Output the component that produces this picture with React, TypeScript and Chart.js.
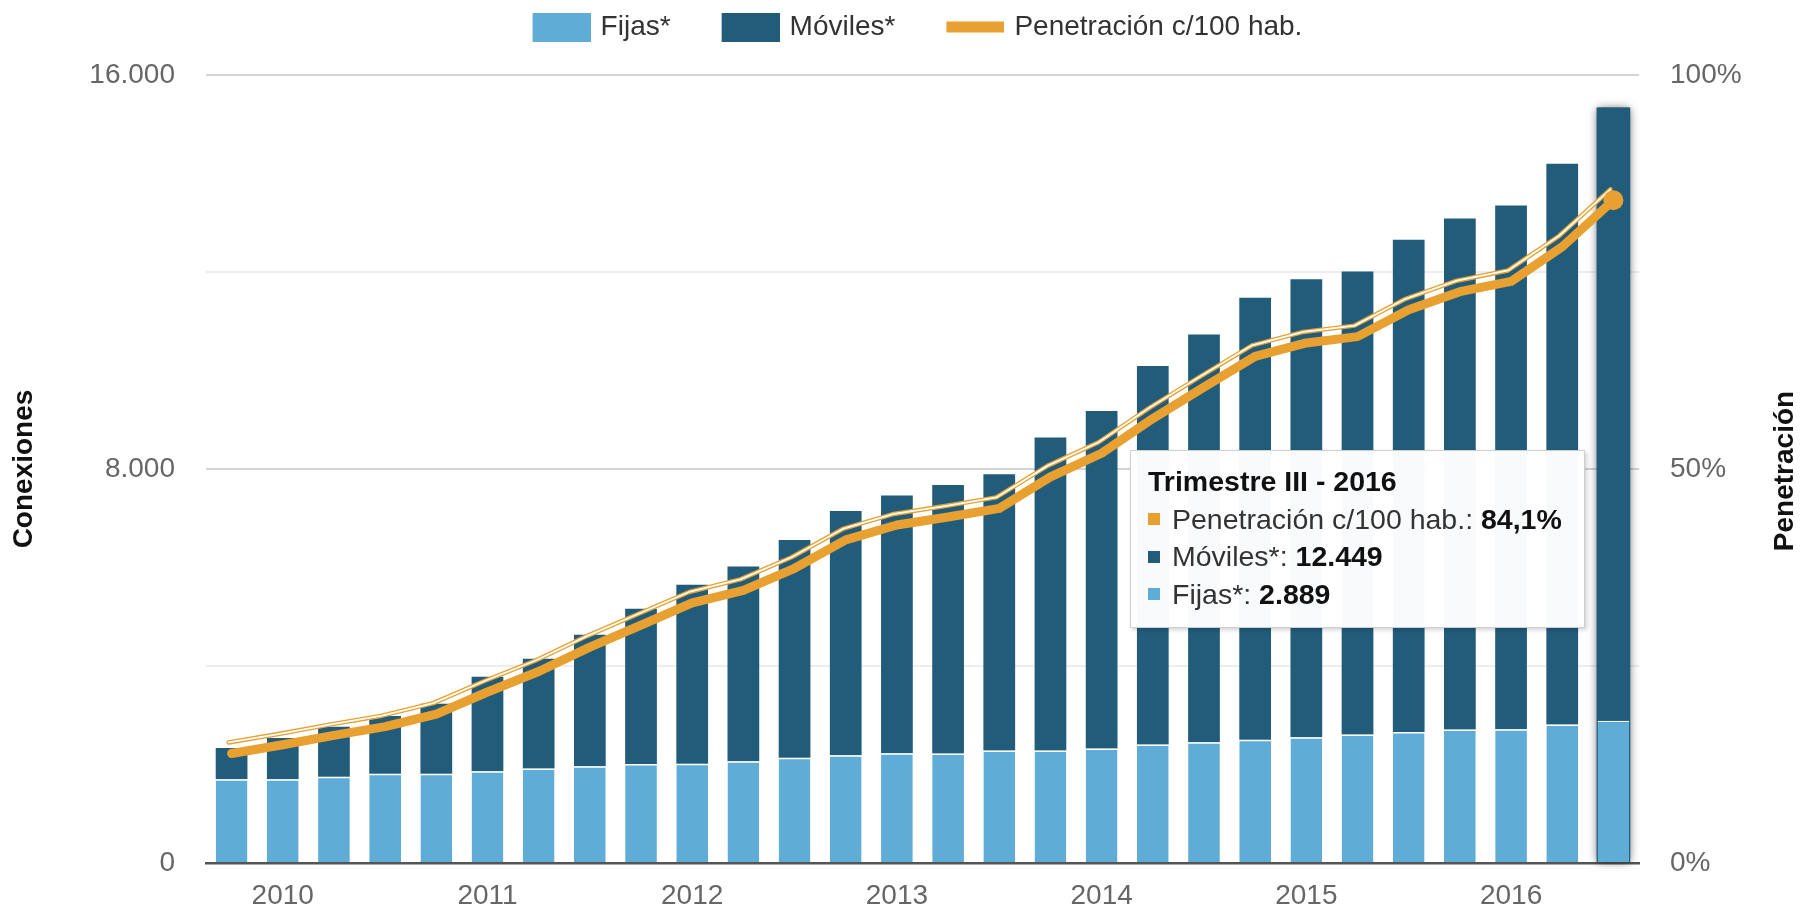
import React, { useEffect, useRef } from 'react';
import { Chart, registerables } from 'chart.js';

Chart.register(...registerables);

// ---- Data ----
const categories = [
  'Trimestre IV - 2009',
  'Trimestre I - 2010', 'Trimestre II - 2010', 'Trimestre III - 2010', 'Trimestre IV - 2010',
  'Trimestre I - 2011', 'Trimestre II - 2011', 'Trimestre III - 2011', 'Trimestre IV - 2011',
  'Trimestre I - 2012', 'Trimestre II - 2012', 'Trimestre III - 2012', 'Trimestre IV - 2012',
  'Trimestre I - 2013', 'Trimestre II - 2013', 'Trimestre III - 2013', 'Trimestre IV - 2013',
  'Trimestre I - 2014', 'Trimestre II - 2014', 'Trimestre III - 2014', 'Trimestre IV - 2014',
  'Trimestre I - 2015', 'Trimestre II - 2015', 'Trimestre III - 2015', 'Trimestre IV - 2015',
  'Trimestre I - 2016', 'Trimestre II - 2016', 'Trimestre III - 2016',
];

const fijas = [
  1700, 1700, 1750, 1810, 1810, 1865, 1920, 1965, 2010, 2015, 2065, 2135, 2190, 2230,
  2225, 2285, 2285, 2325, 2405, 2450, 2505, 2555, 2610, 2660, 2710, 2715, 2810, 2889,
];

const moviles = [
  635, 840, 1018, 1175, 1425, 1918, 2225, 2668, 3154, 3633, 3955, 4423, 4957, 5230,
  5450, 5610, 6353, 6855, 7687, 8280, 8974, 9298, 9398, 9996, 10375, 10635, 11390, 12449,
];

const penetracion = [
  13.9, 15.0, 16.2, 17.3, 18.9, 21.7, 24.3, 27.4, 30.2, 33.0, 34.6, 37.4, 41.0, 42.9,
  43.9, 45.0, 49.0, 52.0, 56.4, 60.4, 64.3, 66.0, 66.8, 70.2, 72.5, 73.8, 78.2, 84.1,
];

const seriesNames = ['Fijas*', 'Móviles*', 'Penetración c/100 hab.'];
const leftLabeledTicks = [0, 8000, 16000];
const rightTickLabels = ['0%', '50%', '100%'];
const axisTitles = ['Conexiones', 'Penetración'];

// ---- Styles ----
const FONT = "'Liberation Sans', Arial, Helvetica, sans-serif";
const C_FIJAS = '#5FADD6';
const C_MOV = '#215C7B';
const C_PEN = '#E8A030';
const HIGHLIGHT = categories.length - 1;
const SW_BOX = 92; // legend box slot width
const SW_CANVAS = 100; // swatch canvas width

function fmtThousands(n: number): string {
  return Math.round(n).toString().replace(/\B(?=(\d{3})+(?!\d))/g, '.');
}
function fmtPct(n: number): string {
  return n.toFixed(1).replace('.', ',') + '%';
}
function yearOf(cat: string): string {
  return cat.split(' - ')[1];
}

function swatch(kind: 'box' | 'line', color: string): HTMLCanvasElement {
  const c = document.createElement('canvas');
  c.width = SW_CANVAS;
  c.height = 29;
  const g = c.getContext('2d')!;
  g.fillStyle = color;
  if (kind === 'box') g.fillRect(SW_CANVAS - 58, 0, 58, 29);
  else g.fillRect(SW_CANVAS - 58, 9, 58, 11);
  return c;
}

const decorPlugin: any = {
  id: 'decor',
  beforeLayout(chart: any) {
    const lg = chart.legend;
    if (lg && !lg.__patched) {
      const orig = lg.fit.bind(lg);
      lg.fit = function () {
        orig();
        this.height = 75;
        if (this.lineWidths && this.lineWidths.length) this.lineWidths[0] += 19;
      };
      lg.__patched = true;
    }
  },
  beforeDatasetsDraw(chart: any) {
    const b0: any = chart.getDatasetMeta(0).data[HIGHLIGHT];
    const b1: any = chart.getDatasetMeta(1).data[HIGHLIGHT];
    if (!b0 || !b1) return;
    const ctx = chart.ctx;
    ctx.save();
    ctx.shadowColor = 'rgba(0,0,0,0.6)';
    ctx.shadowBlur = 9;
    ctx.fillStyle = C_MOV;
    const w = b1.width + 2;
    ctx.fillRect(b1.x - w / 2, b1.y, w, b0.base - b1.y);
    ctx.restore();
  },
  beforeDatasetDraw(chart: any, args: any) {
    if (args.index !== 2) return;
    const pts: any[] = chart.getDatasetMeta(2).data;
    const ctx = chart.ctx;
    const dx = -3, dy = -11;
    ctx.save();
    ctx.beginPath();
    pts.forEach((p, k) => {
      if (k === 0) ctx.moveTo(p.x + dx, p.y + dy);
      else ctx.lineTo(p.x + dx, p.y + dy);
    });
    ctx.lineJoin = 'round';
    ctx.lineCap = 'round';
    ctx.strokeStyle = C_PEN;
    ctx.lineWidth = 4.5;
    ctx.stroke();
    ctx.strokeStyle = '#ffffff';
    ctx.lineWidth = 1.8;
    ctx.stroke();
    ctx.restore();
  },
  afterDraw(chart: any) {
    const ctx = chart.ctx;
    const a = chart.chartArea;
    const cy = (a.top + a.bottom) / 2;
    ctx.save();
    ctx.fillStyle = '#111';
    ctx.font = `bold 28px ${FONT}`;
    ctx.textAlign = 'center';
    ctx.textBaseline = 'middle';
    ctx.translate(24, cy);
    ctx.rotate(-Math.PI / 2);
    ctx.fillText(axisTitles[0], 0, 0);
    ctx.restore();
    ctx.save();
    ctx.fillStyle = '#111';
    ctx.font = `bold 28px ${FONT}`;
    ctx.textAlign = 'center';
    ctx.textBaseline = 'middle';
    ctx.translate(1785, cy + 2);
    ctx.rotate(-Math.PI / 2);
    ctx.fillText(axisTitles[1], 0, 0);
    ctx.restore();
  },
};

export default function App() {
  const ref = useRef<HTMLCanvasElement>(null);

  useEffect(() => {
    if (!ref.current) return;
    const swatches = [swatch('box', C_FIJAS), swatch('box', C_MOV), swatch('line', C_PEN)];
    const chart = new Chart(ref.current, {
      type: 'bar',
      data: {
        labels: categories,
        datasets: [
          {
            type: 'bar',
            label: seriesNames[0],
            data: fijas,
            backgroundColor: C_FIJAS,
            borderColor: '#ffffff',
            borderWidth: { top: 1.5, left: 0, right: 0, bottom: 0 },
            borderSkipped: false,
            yAxisID: 'y',
            stack: 'c',
            order: 1,
            barPercentage: 0.62,
            categoryPercentage: 1,
          } as any,
          {
            type: 'bar',
            label: seriesNames[1],
            data: moviles,
            backgroundColor: C_MOV,
            borderColor: '#ffffff',
            borderWidth: { top: 0, left: 0, right: 0, bottom: 0 },
            borderSkipped: false,
            yAxisID: 'y',
            stack: 'c',
            order: 1,
            barPercentage: 0.62,
            categoryPercentage: 1,
          } as any,
          {
            type: 'line',
            label: seriesNames[2],
            data: penetracion,
            yAxisID: 'y1',
            borderColor: C_PEN,
            backgroundColor: C_PEN,
            borderWidth: 9,
            borderJoinStyle: 'round',
            borderCapStyle: 'round',
            tension: 0,
            pointRadius: penetracion.map((_, i) => (i === HIGHLIGHT ? 10 : 0)),
            pointBorderWidth: 0,
            pointBackgroundColor: C_PEN,
            order: 0,
          } as any,
        ],
      },
      options: {
        animation: false,
        responsive: false,
        events: [],
        layout: { padding: 0 },
        font: { family: FONT } as any,
        plugins: {
          tooltip: { enabled: false },
          legend: {
            display: true,
            position: 'top',
            labels: {
              usePointStyle: true,
              pointStyleWidth: SW_BOX,
              boxHeight: 28,
              padding: 13,
              color: '#333',
              font: { family: FONT, size: 28 },
              generateLabels: () =>
                seriesNames.map((name, i) => ({
                  text: name,
                  fillStyle: [C_FIJAS, C_MOV, C_PEN][i],
                  strokeStyle: 'transparent',
                  lineWidth: 0,
                  pointStyle: swatches[i] as any,
                  hidden: false,
                  datasetIndex: i,
                  fontColor: '#333',
                })),
            },
          },
        },
        scales: {
          x: {
            type: 'category',
            stacked: true,
            offset: true,
            grid: { display: false, drawTicks: false },
            border: { display: true, color: '#555', width: 2.5 },
            ticks: {
              autoSkip: false,
              maxRotation: 0,
              minRotation: 0,
              padding: 16,
              color: '#666',
              font: { family: FONT, size: 28 },
              callback: (_v: any, i: number) =>
                categories[i].startsWith('Trimestre I ') ? yearOf(categories[i]) : '',
            },
            afterFit: (s: any) => {
              s.height = 60;
            },
          },
          y: {
            type: 'linear',
            position: 'left',
            stacked: true,
            min: 0,
            max: 16000,
            border: { display: false },
            grid: {
              drawTicks: false,
              lineWidth: 2,
              color: (c: any) =>
                leftLabeledTicks.includes(c.tick?.value) ? '#d4d4d4' : '#ededed',
            },
            ticks: {
              stepSize: 4000,
              padding: 31,
              color: '#666',
              font: { family: FONT, size: 28 },
              callback: (v: any) => (leftLabeledTicks.includes(Number(v)) ? fmtThousands(Number(v)) : ''),
            },
            afterFit: (s: any) => {
              s.width = 206;
            },
          },
          y1: {
            type: 'linear',
            position: 'right',
            min: 0,
            max: 100,
            border: { display: false },
            grid: { display: false, drawTicks: false },
            ticks: {
              stepSize: 50,
              padding: 31,
              color: '#666',
              font: { family: FONT, size: 28 },
              callback: (v: any) => rightTickLabels[Math.round(Number(v) / 50)] ?? '',
            },
            afterFit: (s: any) => {
              s.width = 177;
            },
          },
        },
      } as any,
      plugins: [decorPlugin],
    });
    return () => chart.destroy();
  }, []);

  const rowStyle: React.CSSProperties = {
    display: 'flex',
    alignItems: 'center',
    height: 37.5,
    whiteSpace: 'nowrap',
  };
  const marker = (color: string): React.CSSProperties => ({
    width: 12,
    height: 12,
    background: color,
    marginRight: 12,
    flex: '0 0 auto',
  });

  return (
    <div
      style={{
        position: 'fixed',
        left: 0,
        top: 0,
        width: 1816,
        height: 923,
        background: '#fff',
        overflow: 'hidden',
      }}
    >
      <canvas ref={ref} width={1816} height={923} style={{ display: 'block' }} />
      <div
        style={{
          position: 'absolute',
          left: 1130,
          top: 450,
          width: 455,
          height: 178,
          boxSizing: 'border-box',
          background: 'rgba(255,255,255,0.97)',
          border: '1.5px solid #cfcfcf',
          boxShadow: '2px 2px 4px rgba(0,0,0,0.18)',
          padding: '12px 0 0 17px',
          fontFamily: FONT,
          fontSize: 28.5,
          color: '#333',
        }}
      >
        <div style={{ ...rowStyle, fontWeight: 'bold', color: '#111' }}>{categories[HIGHLIGHT]}</div>
        <div style={rowStyle}>
          <span style={marker(C_PEN)} />
          <span>
            {seriesNames[2]}: <b style={{ color: '#111' }}>{fmtPct(penetracion[HIGHLIGHT])}</b>
          </span>
        </div>
        <div style={rowStyle}>
          <span style={marker(C_MOV)} />
          <span>
            {seriesNames[1]}: <b style={{ color: '#111' }}>{fmtThousands(moviles[HIGHLIGHT])}</b>
          </span>
        </div>
        <div style={rowStyle}>
          <span style={marker(C_FIJAS)} />
          <span>
            {seriesNames[0]}: <b style={{ color: '#111' }}>{fmtThousands(fijas[HIGHLIGHT])}</b>
          </span>
        </div>
      </div>
    </div>
  );
}
